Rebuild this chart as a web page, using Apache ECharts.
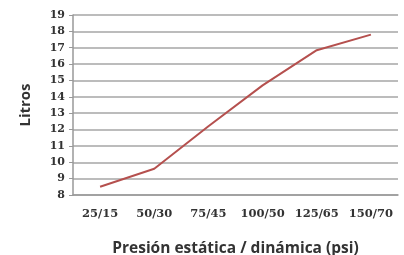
<!DOCTYPE html>
<html>
<head>
<meta charset="utf-8">
<script src="https://cdn.jsdelivr.net/npm/echarts@6/dist/echarts.min.js"></script>
<style>
  html, body { margin: 0; padding: 0; background: #fff; }
  #chart { width: 404px; height: 255px; }
</style>
</head>
<body>
<div id="chart"></div>
<script>
// presiones estática / dinámica
var categorias = ['25/15', '50/30', '75/45', '100/50', '125/65', '150/70'];
// litros
var litros = [8.5, 9.6, 12.2, 14.7, 16.85, 17.8];

var chart = echarts.init(document.getElementById('chart'));
chart.setOption({
    animation: false,
    grid: { left: 73, right: 6, top: 15, bottom: 60, outerBoundsMode: 'none' },
    xAxis: {
        type: 'category',
        data: categorias,
        boundaryGap: true,
        name: 'Presión estática / dinámica (psi)',
        nameLocation: 'middle',
        nameGap: 46,
        nameTextStyle: { fontFamily: 'Open Sans', fontWeight: 'bold', fontSize: 15.5, color: '#333' },
        axisLine: { lineStyle: { color: '#999', width: 1.5 } },
        axisTick: { show: false },
        axisLabel: { interval: 0, fontFamily: 'DejaVu Serif', fontWeight: 'bold', fontSize: 11.5, color: '#333', margin: 13 }
    },
    yAxis: {
        type: 'value',
        min: 8,
        max: 19,
        interval: 1,
        name: 'Litros',
        nameLocation: 'middle',
        nameGap: 40,
        nameTextStyle: { fontFamily: 'Open Sans', fontWeight: 'bold', fontSize: 15, color: '#333' },
        axisLine: { show: true, lineStyle: { color: '#999', width: 1.5 } },
        axisTick: { show: true, length: 4, lineStyle: { color: '#999' } },
        axisLabel: { fontFamily: 'DejaVu Serif', fontWeight: 'bold', fontSize: 11, color: '#333', margin: 8 },
        splitLine: { lineStyle: { color: '#a6a6a6', width: 1.5 } }
    },
    series: [{
        type: 'line',
        data: litros,
        symbol: 'none',
        lineStyle: { color: '#b5504e', width: 2 }
    }]
});
</script>
</body>
</html>
